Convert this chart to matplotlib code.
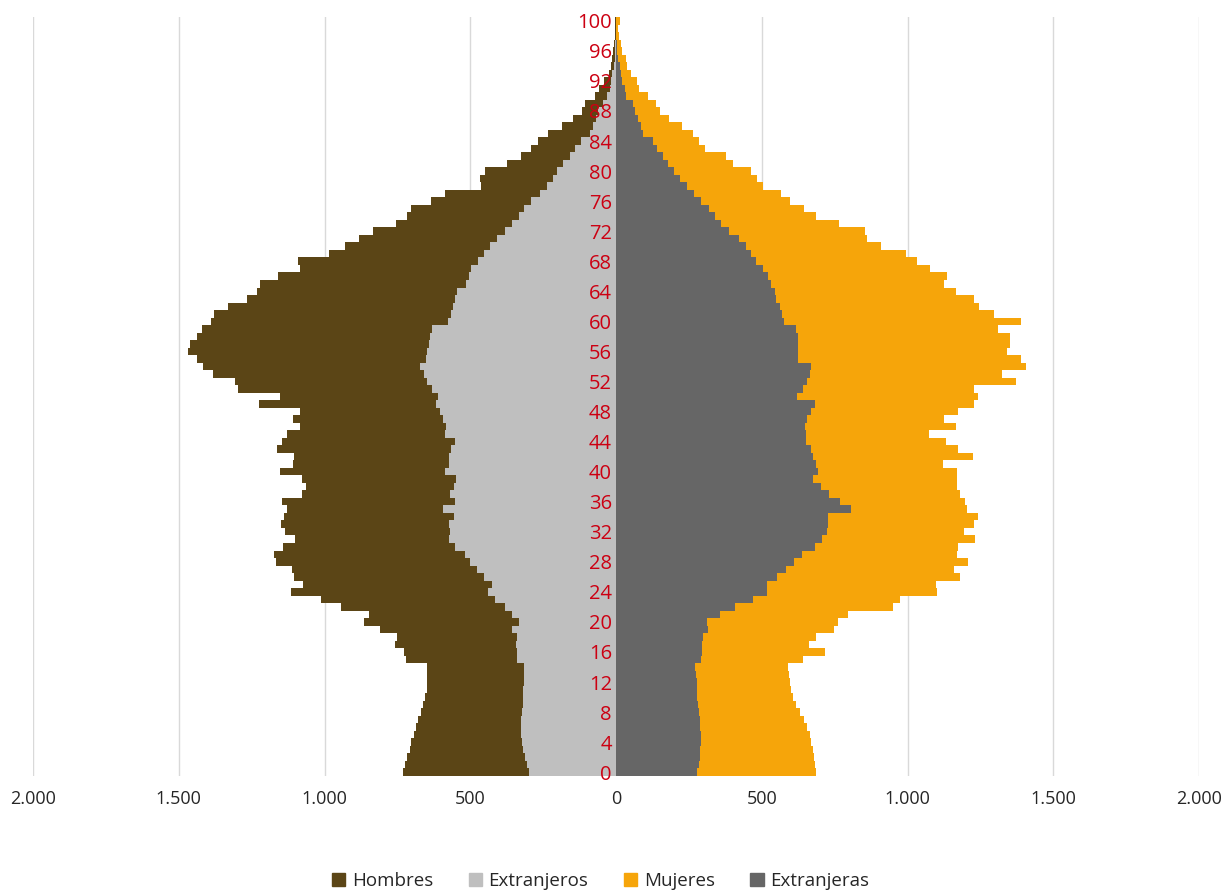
import matplotlib
matplotlib.use('Agg')
import matplotlib.pyplot as plt
from matplotlib.ticker import FuncFormatter, MultipleLocator
from matplotlib.patches import Patch
import numpy as np

plt.rcParams['font.family'] = ['Open Sans', 'DejaVu Sans']

# Ages 0..100
ages = list(range(101))

hombres = [731, 724, 716, 708, 702, 693, 687, 681, 668, 661,
           655, 650, 647, 647, 647, 720, 727, 760, 751, 810,
           864, 847, 943, 1012, 1115, 1074, 1104, 1111, 1166, 1173,
           1142, 1101, 1135, 1149, 1139, 1128, 1146, 1077, 1063, 1077,
           1153, 1108, 1104, 1163, 1146, 1128, 1084, 1108, 1084, 1225,
           1153, 1297, 1307, 1383, 1417, 1437, 1468, 1461, 1437, 1420,
           1389, 1379, 1331, 1266, 1232, 1221, 1160, 1084, 1091, 985,
           930, 882, 834, 755, 717, 703, 635, 587, 463, 467,
           449, 374, 326, 292, 268, 233, 185, 147, 117, 106,
           72, 58, 41, 24, 17, 14, 10, 7, 5, 4, 5]

extranjeros = [298, 306, 313, 318, 322, 325, 326, 325, 322, 320,
               319, 318, 317, 317, 317, 340, 340, 342, 340, 356,
               333, 357, 382, 415, 441, 425, 452, 477, 501, 518,
               552, 573, 569, 573, 556, 594, 552, 569, 556, 549,
               587, 573, 573, 566, 552, 587, 583, 594, 604, 618,
               611, 631, 648, 659, 672, 652, 648, 641, 638, 631,
               576, 566, 559, 552, 545, 514, 504, 497, 473, 453,
               432, 408, 381, 357, 333, 316, 292, 261, 237, 216,
               202, 182, 158, 141, 120, 89, 79, 69, 62, 45,
               31, 21, 17, 14, 7, 5, 3, 2, 1, 1, 1]

mujeres = [686, 683, 679, 676, 669, 666, 655, 645, 631, 617,
           607, 600, 597, 593, 590, 641, 717, 662, 686, 748,
           762, 796, 950, 974, 1101, 1098, 1180, 1159, 1208, 1170,
           1173, 1232, 1194, 1228, 1242, 1204, 1197, 1180, 1170, 1170,
           1170, 1122, 1225, 1173, 1132, 1074, 1166, 1125, 1173, 1228,
           1242, 1228, 1372, 1324, 1406, 1389, 1341, 1352, 1352, 1310,
           1389, 1297, 1245, 1228, 1166, 1125, 1135, 1077, 1033, 995,
           909, 861, 854, 765, 686, 645, 597, 566, 504, 484,
           463, 401, 377, 305, 285, 264, 226, 182, 151, 137,
           110, 79, 72, 51, 38, 34, 21, 17, 10, 7, 14]

extranjeras = [278, 285, 288, 288, 291, 291, 288, 287, 285, 281,
               279, 278, 276, 274, 271, 291, 295, 295, 298, 316,
               312, 357, 408, 470, 518, 518, 552, 583, 611, 638,
               683, 707, 724, 727, 727, 806, 768, 731, 703, 676,
               693, 686, 676, 669, 652, 652, 648, 655, 669, 683,
               621, 641, 655, 666, 669, 624, 624, 624, 624, 617,
               576, 569, 562, 549, 545, 532, 521, 504, 480, 463,
               446, 422, 388, 360, 340, 319, 291, 268, 244, 220,
               199, 178, 161, 141, 127, 93, 86, 75, 65, 58,
               34, 31, 21, 17, 14, 7, 3, 2, 1, 1, 1]

labels = ['Hombres', 'Extranjeros', 'Mujeres', 'Extranjeras']
colors = ['#5B4516', '#BFBFBF', '#F6A50A', '#666666']

fig = plt.figure(figsize=(12.26, 8.96), dpi=100)
ax = fig.add_axes([0.027, 0.134, 0.951, 0.847])

# men to the left, women to the right; foreigners drawn over the totals
ax.barh(ages, -np.array(hombres), height=1.0, color=colors[0], zorder=1)
ax.barh(ages, -np.array(extranjeros), height=1.0, color=colors[1], zorder=1.1)
ax.barh(ages, mujeres, height=1.0, color=colors[2], zorder=1)
ax.barh(ages, extranjeras, height=1.0, color=colors[3], zorder=1.1)

ax.set_xlim(-2000, 2000)
ax.set_ylim(-0.5, 100.5)
ax.xaxis.set_major_locator(MultipleLocator(500))
ax.xaxis.set_major_formatter(FuncFormatter(lambda v, p: f'{abs(int(v)):,}'.replace(',', '.')))
ax.grid(axis='x', color='#D9D9D9', linewidth=1)
ax.tick_params(axis='x', length=0, labelsize=13, colors='#262626', pad=10)

# age labels sit on the centre line
ax.spines['left'].set_position(('data', 0))
ax.yaxis.set_major_locator(MultipleLocator(4))
ax.tick_params(axis='y', length=0, labelsize=14.5, labelcolor='#CC0012', pad=3)
for s in ax.spines.values():
    s.set_visible(False)
ax.xaxis.set_zorder(0.5)
ax.yaxis.set_zorder(3)

handles = [Patch(color=c, label=l) for c, l in zip(colors, labels)]
fig.legend(handles=handles, loc='center', bbox_to_anchor=(0.49, 0.017), ncol=4,
           frameon=False, fontsize=13.5, handlelength=0.7, handleheight=0.7,
           handletextpad=0.35, columnspacing=1.9, labelcolor='#262626')

fig.savefig('out.png', dpi=100)
